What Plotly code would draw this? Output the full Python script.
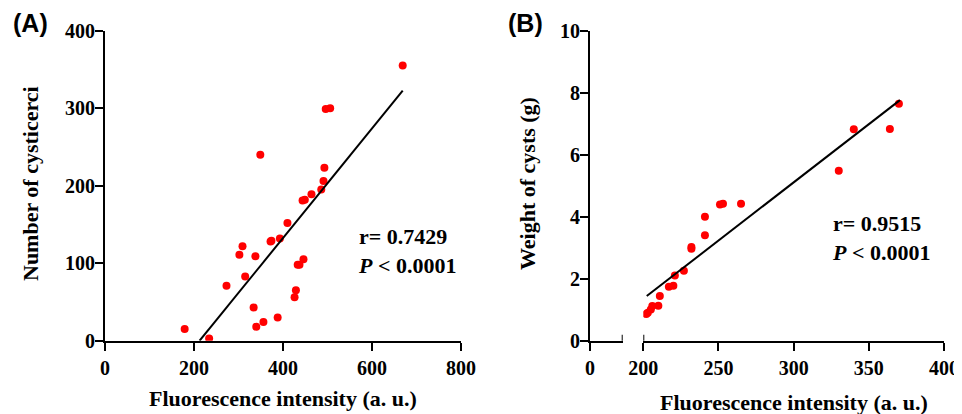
import plotly.graph_objects as go

# ---------------- data ----------------
# Panel A: fluorescence intensity vs number of cysticerci
fluor_a = [669, 496, 506, 349, 493, 491, 486, 464, 444, 449, 410, 393, 372, 374, 309,
           302, 338, 446, 437, 433, 315, 273, 429, 426, 334, 388, 356, 340, 179, 234]
cysticerci = [355, 299, 300, 240, 223, 206, 195, 189, 181, 182, 152, 132, 128, 129, 122,
              111, 109, 105, 98, 98, 83, 71, 65, 56, 43, 30, 24, 18, 15, 3]
fit_a_x = [212.6, 669]
fit_a_y = [0, 322.6]
stats_a = ["r= 0.7429", "P", "< 0.0001"]

# Panel B: fluorescence intensity vs weight of cysts
fluor_b = [370, 340, 364, 330, 265, 253, 251, 241, 241, 232, 232, 227, 221, 220, 217,
           211, 210, 206, 205, 203, 202]
weight = [7.64, 6.82, 6.83, 5.48, 4.42, 4.42, 4.39, 4.0, 3.4, 3.02, 2.97, 2.26, 2.1,
          1.77, 1.74, 1.44, 1.13, 1.12, 1.01, 0.9, 0.86]
fit_b_x = [202.3, 370.7]
fit_b_y = [1.44, 7.76]
stats_b = ["r= 0.9515", "P", "< 0.0001"]

ticks_a_x = [0, 200, 400, 600, 800]
ticks_a_y = [0, 100, 200, 300, 400]
ticks_b_x = [200, 250, 300, 350, 400]
ticks_b_y = [0, 2, 4, 6, 8, 10]
break_low = [0, 21.7]      # first segment of the broken x axis in panel B
break_high = [200, 400]    # second segment

x_title = "Fluorescence intensity (a. u.)"
y_title_a = "Number of cysticerci"
y_title_b = "Weight of cysts (g)"

# ---------------- figure ----------------
OX, OY = 8, 8            # page body margin offset
W, H = 962 - OX, 414 - OY
SERIF = "Liberation Serif"
tick_font = dict(family=SERIF, size=20, color="black", weight="bold")


def px(x):
    return (x - OX) / W


def py(y):
    return 1 - (y - OY) / H


def bold(vals):
    return [f"<b>{v}</b>" for v in vals]


fig = go.Figure()
marker = dict(color="#ff0000", size=8, line=dict(width=0))

fig.add_trace(go.Scatter(x=fluor_a, y=cysticerci, mode="markers", marker=marker,
                         xaxis="x", yaxis="y", showlegend=False))
fig.add_trace(go.Scatter(x=fit_a_x, y=fit_a_y, mode="lines",
                         line=dict(color="black", width=2), xaxis="x", yaxis="y",
                         showlegend=False))
fig.add_trace(go.Scatter(x=fluor_b, y=weight, mode="markers", marker=marker,
                         xaxis="x3", yaxis="y2", showlegend=False))
fig.add_trace(go.Scatter(x=fit_b_x, y=fit_b_y, mode="lines",
                         line=dict(color="black", width=2), xaxis="x3", yaxis="y2",
                         showlegend=False))
# empty trace so the low segment axis exists
fig.add_trace(go.Scatter(x=[None], y=[None], xaxis="x2", yaxis="y2", showlegend=False,
                         hoverinfo="skip"))

ydom = [py(340.7), py(30.7)]

axis_common = dict(showline=True, linecolor="black", linewidth=2, ticks="outside",
                   ticklen=8, tickwidth=2, tickcolor="black", showgrid=False,
                   zeroline=False, tickfont=tick_font, automargin=False, fixedrange=True)
yaxis_extra = dict(ticklabelstandoff=-4)

fig.update_layout(
    width=W, height=H,
    margin=dict(l=0, r=0, t=0, b=0),
    font=dict(family=SERIF, color="black"),
    paper_bgcolor="white", plot_bgcolor="white",
    xaxis=dict(domain=[px(105), px(461)], range=[ticks_a_x[0], ticks_a_x[-1]],
               tickvals=ticks_a_x, ticktext=bold(ticks_a_x), anchor="y", **axis_common),
    yaxis=dict(domain=ydom, range=[ticks_a_y[0], ticks_a_y[-1]],
               tickvals=ticks_a_y, ticktext=bold(ticks_a_y), anchor="x",
               **axis_common, **yaxis_extra),
    xaxis2=dict(domain=[px(590), px(622.7)], range=break_low,
                tickvals=[break_low[0]], ticktext=bold([break_low[0]]), anchor="y2",
                **axis_common),
    xaxis3=dict(domain=[px(643.3), px(944)], range=break_high,
                tickvals=ticks_b_x, ticktext=bold(ticks_b_x), anchor="y2", **axis_common),
    yaxis2=dict(domain=ydom, range=[ticks_b_y[0], ticks_b_y[-1]],
                tickvals=ticks_b_y, ticktext=bold(ticks_b_y), anchor="x2",
                **axis_common, **yaxis_extra),
)

# caps at the axis break (both up and down)
for xr, xv in (("x2", break_low[1]), ("x3", break_high[0])):
    fig.add_shape(type="line", xref=xr, yref="y2", x0=xv, x1=xv,
                  ysizemode="pixel", yanchor=0, y0=-8, y1=6,
                  line=dict(color="black", width=2))

title_font = dict(family=SERIF, size=22, color="black")
ann = []
# x titles
ann.append(dict(text=f"<b>{x_title}</b>", x=px(283), y=py(398), xref="paper",
                yref="paper", showarrow=False, font=title_font, xanchor="center",
                yanchor="middle"))
ann.append(dict(text=f"<b>{x_title}</b>", x=px(794), y=py(402.5), xref="paper",
                yref="paper", showarrow=False, font=title_font, xanchor="center",
                yanchor="middle"))
# y titles
ann.append(dict(text=f"<b>{y_title_a}</b>", x=px(30), y=py(184), xref="paper",
                yref="paper", showarrow=False, font=title_font, textangle=-90,
                xanchor="center", yanchor="middle"))
ann.append(dict(text=f"<b>{y_title_b}</b>", x=px(527), y=py(184), xref="paper",
                yref="paper", showarrow=False, font=title_font, textangle=-90,
                xanchor="center", yanchor="middle"))
# stats
for st, xp, yp in ((stats_a, 356, 251), (stats_b, 830, 238)):
    txt = f"<b>{st[0]}</b><br><b><i>{st[1]}</i> {st[2].replace('<', '&lt;')}</b>"
    ann.append(dict(text=txt, x=px(xp), y=py(yp), xref="paper", yref="paper",
                    showarrow=False, font=title_font, xanchor="left", yanchor="middle",
                    align="left"))
# panel labels
for lab, xp in (("(A)", 30), ("(B)", 525)):
    ann.append(dict(text=f"<b>{lab}</b>", x=px(xp), y=py(23), xref="paper",
                    yref="paper", showarrow=False,
                    font=dict(family="Liberation Sans", size=25, color="black"),
                    xanchor="center", yanchor="middle"))
fig.update_layout(annotations=ann)

fig.write_html("out.html")
